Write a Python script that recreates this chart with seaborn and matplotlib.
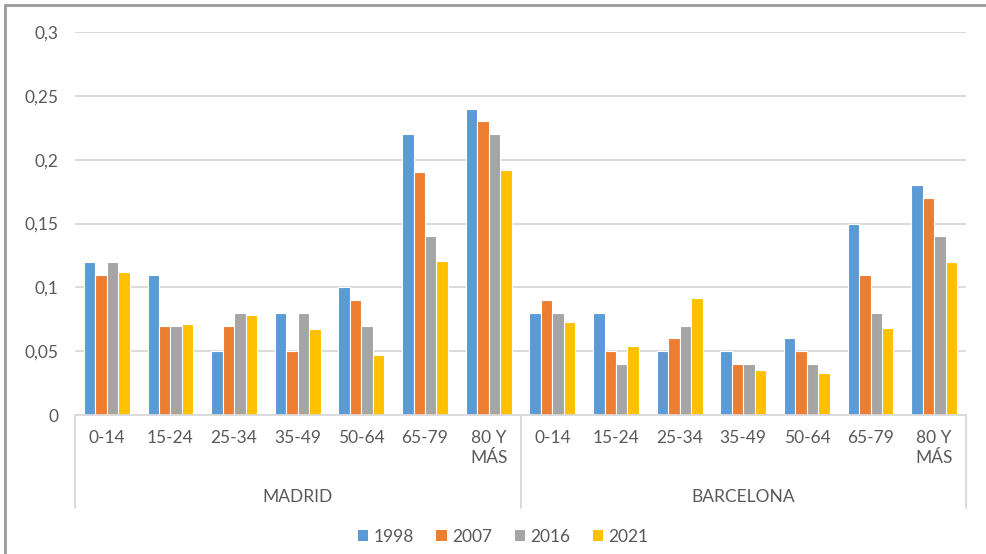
import matplotlib
matplotlib.use("Agg")
import matplotlib.pyplot as plt
import matplotlib.transforms as mtransforms
from matplotlib.lines import Line2D
from matplotlib.patches import Patch
from matplotlib.ticker import FixedLocator, FuncFormatter
import pandas as pd
import seaborn as sns

# --- data -------------------------------------------------------------
cities = ["MADRID", "BARCELONA"]
age_groups = ["0-14", "15-24", "25-34", "35-49", "50-64", "65-79", "80 Y\nMÁS"]
years = ["1998", "2007", "2016", "2021"]

madrid_1998 = [0.12, 0.11, 0.05, 0.08, 0.10, 0.22, 0.24]
madrid_2007 = [0.11, 0.07, 0.07, 0.05, 0.09, 0.19, 0.23]
madrid_2016 = [0.12, 0.07, 0.08, 0.08, 0.07, 0.14, 0.22]
madrid_2021 = [0.112, 0.071, 0.078, 0.067, 0.047, 0.121, 0.192]

barcelona_1998 = [0.08, 0.08, 0.05, 0.05, 0.06, 0.15, 0.18]
barcelona_2007 = [0.09, 0.05, 0.06, 0.04, 0.05, 0.11, 0.17]
barcelona_2016 = [0.08, 0.04, 0.07, 0.04, 0.04, 0.08, 0.14]
barcelona_2021 = [0.073, 0.054, 0.092, 0.035, 0.033, 0.068, 0.12]

colors = ["#5B9BD5", "#ED7D31", "#A5A5A5", "#FFC000"]
y_ticks = [0, 0.05, 0.10, 0.15, 0.20, 0.25, 0.30]

series = {
    "MADRID": [madrid_1998, madrid_2007, madrid_2016, madrid_2021],
    "BARCELONA": [barcelona_1998, barcelona_2007, barcelona_2016, barcelona_2021],
}

rows = []
order = []
for city in cities:
    for i, age in enumerate(age_groups):
        key = f"{city}|{age}"
        order.append(key)
        for y, vals in zip(years, series[city]):
            rows.append({"cat": key, "year": y, "value": vals[i]})
df = pd.DataFrame(rows)

# --- figure -----------------------------------------------------------
sns.set_theme(style="white")
plt.rcParams["font.family"] = ["Lato", "DejaVu Sans"]
text_color = "#595959"
grid_color = "#D9D9D9"
fs = 12.5

W, H = 986, 554
fig = plt.figure(figsize=(W / 100, H / 100), dpi=100)
ax_left, ax_right, ax_top, ax_bottom = 75, 966, 32, 415
ax = fig.add_axes([ax_left / W, (H - ax_bottom) / H,
                   (ax_right - ax_left) / W, (ax_bottom - ax_top) / H])

sns.barplot(data=df, x="cat", y="value", hue="year", order=order,
            hue_order=years, palette=colors, saturation=1, width=0.72,
            edgecolor="white", linewidth=0.8, ax=ax, legend=False)

ax.set_xlim(-0.5, len(order) - 0.5)
ax.set_ylim(0, 0.3)
ax.yaxis.set_major_locator(FixedLocator(y_ticks))
ax.yaxis.set_major_formatter(
    FuncFormatter(lambda v, _: ("%g" % round(v, 2)).replace(".", ",")))
ax.grid(axis="y", color=grid_color, linewidth=1.3)
ax.set_axisbelow(True)
for side in ["left", "right", "top"]:
    ax.spines[side].set_visible(False)
ax.spines["bottom"].set_color(grid_color)
ax.spines["bottom"].set_linewidth(1.3)

ax.set_xticks(range(len(order)))
ax.set_xticklabels(age_groups * len(cities), fontsize=fs, color=text_color,
                   linespacing=1.3, va="top")
ax.tick_params(axis="x", length=0, pad=11)
ax.tick_params(axis="y", length=0, pad=12, labelsize=fs, labelcolor=text_color)
ax.set_xlabel("")
ax.set_ylabel("")

# city group labels and separators under the category axis
trans = mtransforms.blended_transform_factory(ax.transData, ax.transAxes)
n = len(age_groups)
sep_depth = 93 / (ax_bottom - ax_top)
for k in range(len(cities) + 1):
    ax.add_line(Line2D([k * n - 0.5, k * n - 0.5], [0, -sep_depth],
                       transform=trans, color=grid_color, lw=1.3,
                       clip_on=False))
for k, city in enumerate(cities):
    ax.annotate(city, xy=(k * n + (n - 1) / 2, 0), xycoords=trans,
                xytext=(0, -59), textcoords="offset points",
                ha="center", va="center", fontsize=fs, color=text_color,
                annotation_clip=False)

# legend at the bottom with square swatches
handles = [Patch(facecolor=c, edgecolor="none") for c in colors]
leg = fig.legend(handles, years, loc="center",
                 bbox_to_anchor=(503 / W, (H - 537) / H),
                 bbox_transform=fig.transFigure, ncol=4, frameon=False,
                 fontsize=fs, handlelength=0.6, handleheight=0.6,
                 handletextpad=0.3, columnspacing=1.3)
for t in leg.get_texts():
    t.set_color(text_color)

# outer chart border (left and top edges)
border = "#9A9A9E"
fig.add_artist(Line2D([5 / W, 5 / W], [0, (H - 5) / H],
                      transform=fig.transFigure, color=border, lw=2))
fig.add_artist(Line2D([5 / W, 1], [(H - 5) / H, (H - 5) / H],
                      transform=fig.transFigure, color=border, lw=2))

fig.savefig("out.png", dpi=100)
